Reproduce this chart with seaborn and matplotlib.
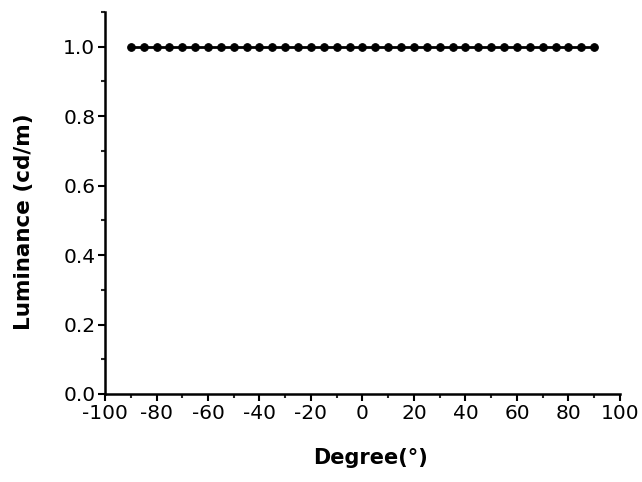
import numpy as np
import pandas as pd
import seaborn as sns
import matplotlib
matplotlib.use("Agg")
import matplotlib.pyplot as plt
from matplotlib.ticker import MultipleLocator

degree = [-90, -85, -80, -75, -70, -65, -60, -55, -50, -45, -40, -35, -30, -25, -20,
          -15, -10, -5, 0, 5, 10, 15, 20, 25, 30, 35, 40, 45, 50, 55, 60, 65, 70,
          75, 80, 85, 90]
luminance = [1.0] * len(degree)
xticks = [-100, -80, -60, -40, -20, 0, 20, 40, 60, 80, 100]
yticks = [0.0, 0.2, 0.4, 0.6, 0.8, 1.0]

df = pd.DataFrame({"Degree": degree, "Luminance": luminance})

sns.set_style("ticks")
plt.rcParams['font.family'] = ['DejaVu Sans']

fig = plt.figure(figsize=(6.42, 4.82), dpi=100)
ax = fig.add_axes([0.1636, 0.1826, 0.802, 0.7925])
sns.lineplot(data=df, x="Degree", y="Luminance", ax=ax, color="black",
             linewidth=2, marker="o", markersize=5.5, markeredgecolor="black")

ax.set_xlim(-100, 100)
ax.set_ylim(0, 1.1)
ax.set_xticks(xticks)
ax.set_yticks(yticks)
ax.set_xticklabels([str(t) for t in xticks])
ax.set_yticklabels([f"{t:.1f}" for t in yticks])
ax.xaxis.set_minor_locator(MultipleLocator(10))
ax.yaxis.set_minor_locator(MultipleLocator(0.1))
ax.tick_params(axis="both", which="major", direction="out", length=5, width=1.5,
               labelsize=14.5, colors="black", pad=2)
ax.tick_params(axis="both", which="minor", direction="out", length=3, width=1.5)
for s in ["top", "right"]:
    ax.spines[s].set_visible(False)
for s in ["left", "bottom"]:
    ax.spines[s].set_linewidth(1.8)
    ax.spines[s].set_color("black")

ax.set_xlabel("Degree(°)", fontsize=15, fontweight="bold", color="black")
ax.set_ylabel("Luminance (cd/m)", fontsize=15.5, fontweight="bold", color="black")
ax.xaxis.set_label_coords(0.515, -0.141)
ax.yaxis.set_label_coords(-0.138, 0.450)

fig.savefig("out.png", dpi=100)
